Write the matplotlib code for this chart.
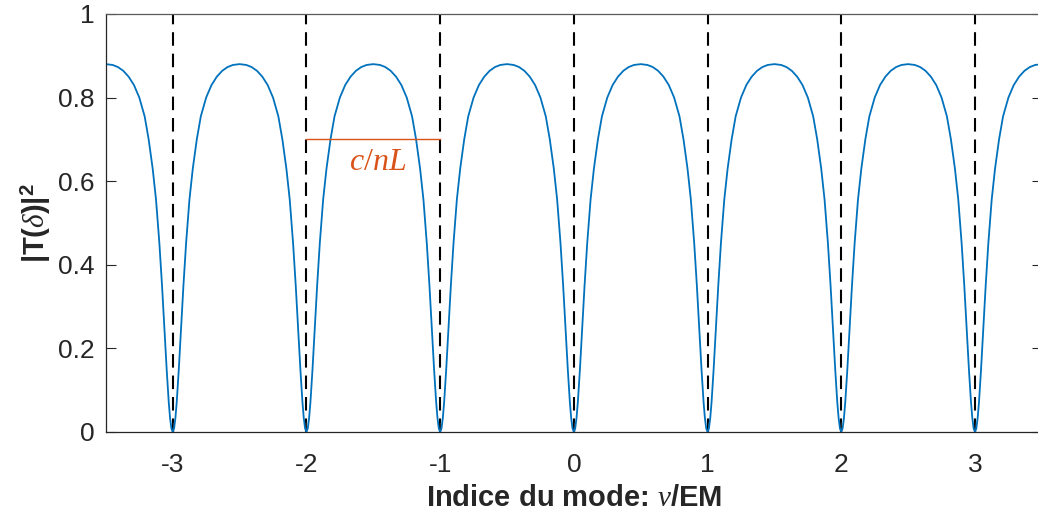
import numpy as np
import matplotlib
matplotlib.use("Agg")
import matplotlib.pyplot as plt

# mode indices (left edge of each lobe) and dashed mode markers
lobe_starts = [-4, -3, -2, -1, 0, 1, 2, 3]
mode_lines = [-3, -2, -1, 0, 1, 2, 3]

# half-lobe profile: offset from a mode -> |T|^2
half_offsets = [0.0, 0.01, 0.02, 0.03, 0.045, 0.06, 0.08, 0.10, 0.125, 0.15,
                0.18, 0.21, 0.25, 0.29, 0.33, 0.37, 0.41, 0.45, 0.5]
half_values = [0.0, 0.0086, 0.0335, 0.072, 0.148, 0.235, 0.350, 0.452, 0.556, 0.630,
               0.700, 0.755, 0.800, 0.830, 0.850, 0.864, 0.873, 0.878, 0.880]

# free spectral range marker
fsr_span = [-2, -1]
fsr_level = 0.70
fsr_label = "$c/nL$"

xticks = [-3, -2, -1, 0, 1, 2, 3]
yticks = [0, 0.2, 0.4, 0.6, 0.8, 1]

plt.rcParams["font.family"] = ["Liberation Sans", "DejaVu Sans"]
plt.rcParams["mathtext.fontset"] = "custom"
plt.rcParams["mathtext.rm"] = "Liberation Serif"
plt.rcParams["mathtext.it"] = "Liberation Serif:italic"
plt.rcParams["mathtext.bf"] = "Liberation Sans:bold"

fig = plt.figure(figsize=(10.38, 5.15), dpi=100)
ax = fig.add_axes([0.102, 0.1612, 0.9017, 0.8117])

# build the curve lobe by lobe
xs, ys = [], []
offs = np.array(half_offsets)
vals = np.array(half_values)
for k in lobe_starts:
    xs.append(k + offs)
    ys.append(vals)
    xs.append(k + 1 - offs[::-1][1:])
    ys.append(vals[::-1][1:])
x = np.concatenate(xs)
y = np.concatenate(ys)

for m in mode_lines:
    ax.axvline(m, color="black", lw=1.5, linestyle=(0, (6.5, 3.8)), zorder=1)

ax.plot(x, y, color="#0072BD", lw=1.3, zorder=2)

ax.plot(fsr_span, [fsr_level, fsr_level], color="#D95319", lw=1.0, zorder=3)
ax.text(np.mean(fsr_span) + 0.03, fsr_level - 0.053, fsr_label, color="#D95319",
        fontsize=23, ha="center", va="center")

ax.set_xlim(-3.5, 3.5)
ax.set_ylim(0, 1)
ax.set_xticks(xticks)
ax.set_xticklabels([str(t) for t in xticks])
ax.set_yticks(yticks)
ax.set_yticklabels(["0", "0.2", "0.4", "0.6", "0.8", "1"])

ax.tick_params(direction="in", length=7, width=0.8, labelsize=19, colors="#262626",
               right=True, top=False)
ax.tick_params(axis="x", pad=15)
ax.tick_params(axis="y", pad=8)
for s in ax.spines.values():
    s.set_color("#262626")
    s.set_linewidth(0.9)
ax.spines["top"].set_color("#5a5a5a")

ax.set_xlabel(r"Indice du mode: $\nu$/EM", fontsize=21, fontweight="bold",
              color="#262626", labelpad=5)
ax.set_ylabel(r"|T($\delta$)|$^\mathbf{2}$", fontsize=21, fontweight="bold",
              color="#262626", labelpad=4)

fig.savefig("out.png", dpi=100)
